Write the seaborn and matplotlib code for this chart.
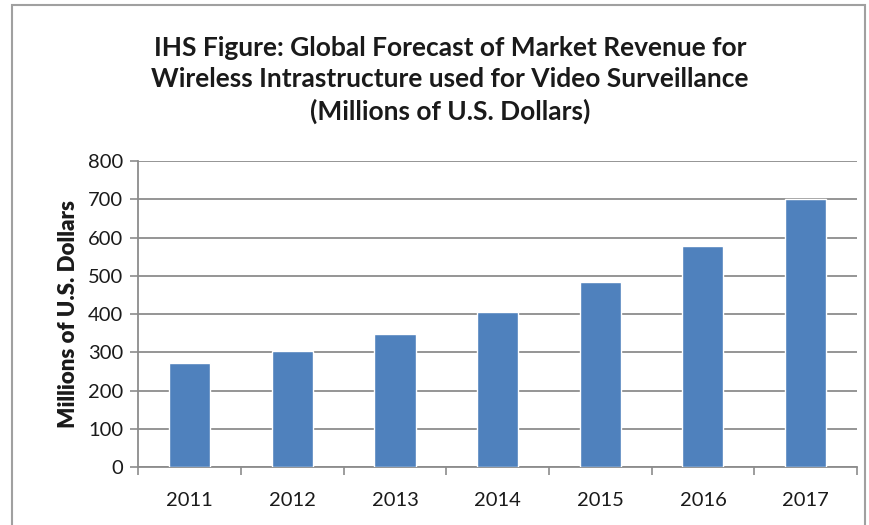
import matplotlib
matplotlib.use("Agg")
import matplotlib.pyplot as plt
import matplotlib.patches as mpatches
import seaborn as sns
import pandas as pd

years = ["2011", "2012", "2013", "2014", "2015", "2016", "2017"]
revenue = [273, 303, 349, 407, 483, 578, 702]
y_ticks = [0, 100, 200, 300, 400, 500, 600, 700, 800]

title = ("IHS Figure: Global Forecast of Market Revenue for\n"
         "Wireless Intrastructure used for Video Surveillance\n"
         "(Millions of U.S. Dollars)")
ylabel = "Millions of U.S. Dollars"

sns.set_theme(style="white")
plt.rcParams['font.family'] = ['Lato', 'DejaVu Sans']

df = pd.DataFrame({"year": years, "revenue": revenue})

fig = plt.figure(figsize=(8.7, 5.25), dpi=100)
ax = fig.add_axes([0.159, 0.110, 0.826, 0.583])

sns.barplot(data=df, x="year", y="revenue", color="#4F81BD", saturation=1,
            width=0.4, ax=ax, zorder=3)

ax.set_ylim(0, 800)
ax.set_yticks(y_ticks)
ax.set_xlim(-0.5, len(years) - 0.5)
ax.yaxis.grid(True, color="#8c8c8c", linewidth=1.3, zorder=0)
ax.xaxis.grid(False)
for side in ["top", "right"]:
    ax.spines[side].set_visible(False)
for side in ["left", "bottom"]:
    ax.spines[side].set_color("#8c8c8c")
    ax.spines[side].set_linewidth(1.3)

ax.tick_params(axis="y", which="major", left=True, length=6, width=1.2,
               color="#8c8c8c", labelsize=14.5, labelcolor="#1a1a1a", pad=5)
ax.tick_params(axis="x", which="major", bottom=False, labelsize=14.5,
               labelcolor="#1a1a1a", pad=12)
# category separator ticks on x axis
ax.set_xticks([i - 0.5 for i in range(len(years) + 1)], minor=True)
ax.tick_params(axis="x", which="minor", bottom=True, length=6, width=1.2,
               color="#8c8c8c")

ax.set_xlabel("")
ax.set_ylabel(ylabel, fontsize=16, fontweight="heavy", color="#1a1a1a", labelpad=6)

fig.text(0.517, 0.847, title, ha="center", va="center", fontsize=19,
         fontweight="bold", color="#1a1a1a", linespacing=1.35)

border = mpatches.Rectangle((0.014, -0.05), 0.98, 1.04, transform=fig.transFigure,
                            fill=False, edgecolor="#a0a0a0", linewidth=1.5)
fig.patches.append(border)

fig.savefig("out.png", dpi=100, facecolor="white")
